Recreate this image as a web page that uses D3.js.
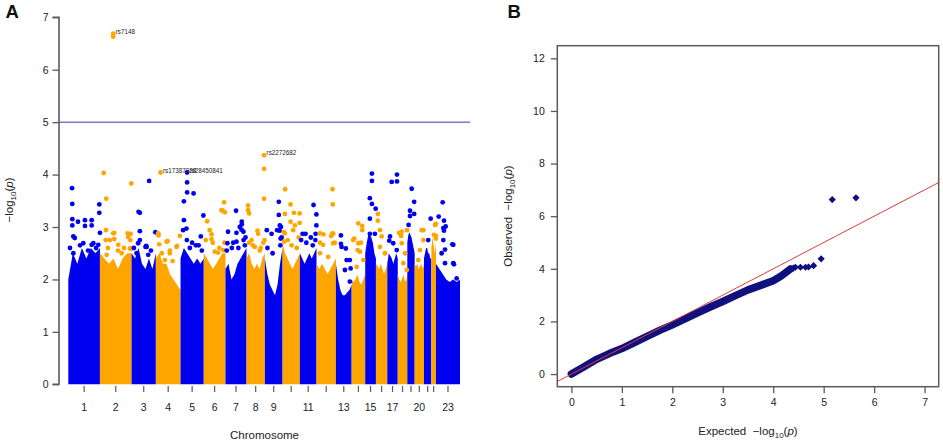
<!DOCTYPE html>
<html><head><meta charset="utf-8">
<script src="https://cdn.jsdelivr.net/npm/d3@7"></script>
<style>
body{margin:0;background:#fff}
svg{font-family:"Liberation Sans",Arial,Helvetica,sans-serif;display:block}
</style>
</head><body>
<svg id="chart" width="943" height="442"></svg>
<script>
// ---------------- DATA ----------------
const chromosomes = ["1","2","3","4","5","6","7","8","9","10","11","12","13","14","15","16","17","18","19","20","21","22","23"];
const chrLengthMb = [245,245,188,191,180,168,163,142,137,134,129,150,122,105,83,88,81,74,57,72,57,36,186];
const chrTickLabels = ["1","2","3","4","5","6","7","8","9","","11","","13","","15","","17","","","20","","","23"];
const manhattanYTicks = [0,1,2,3,4,5,6,7];
const suggestiveLine = 5;
// top of the dense (solid) band for each chromosome, 8 samples from start to end
const bandTops = [
  [2.0,2.5,2.3,2.6,2.4,2.6,2.5,2.6],[2.5,2.4,2.3,2.4,2.2,2.4,2.5,2.5],[2.5,2.4,2.6,2.3,2.2,2.4,2.2,2.5],
  [2.4,2.5,2.3,2.3,2.1,2.0,1.9,1.8],[2.4,2.6,2.5,2.4,2.3,2.4,2.3,2.4],[2.5,2.4,2.3,2.2,2.3,2.4,2.5,2.5],
  [2.2,2.3,2.0,2.1,2.3,2.4,2.5,2.6],[2.4,2.5,2.3,2.2,2.3,2.2,2.4,2.5],[2.4,2.1,1.9,1.8,1.7,1.9,2.3,2.6],
  [2.7,2.5,2.4,2.3,2.2,2.3,2.4,2.5],[2.5,2.4,2.3,2.4,2.5,2.4,2.5,2.6],[2.3,2.2,2.3,2.2,2.1,2.2,2.3,2.4],
  [2.3,2.0,1.8,1.7,1.7,1.75,1.8,1.9],[2.0,1.95,2.0,2.1,1.95,1.9,2.0,2.1],[2.5,2.7,2.85,2.85,2.8,2.7,2.5,2.4],
  [2.3,2.25,2.2,2.3,2.2,2.1,2.2,2.3],[2.3,2.5,2.45,2.4,2.3,2.4,2.5,2.4],[2.1,2.0,1.95,2.0,2.1,2.0,1.95,2.1],
  [2.7,2.85,2.9,2.85,2.8,2.7,2.6,2.5],[2.3,2.25,2.3,2.2,2.25,2.3,2.2,2.3],[2.4,2.5,2.6,2.6,2.5,2.5,2.4,2.4],
  [2.6,2.7,2.8,2.7,2.6,2.5,2.6,2.7],[2.3,2.2,2.1,2.0,1.95,2.0,1.95,2.0]
];
// scattered SNPs above the band: [chromosome (1-based), position Mb, -log10 p]
const snpPoints = [
  [1,29,3.74],[1,31,3.44],[1,31,3.15],[1,31,3.03],[1,75,3.10],[1,129,3.13],[1,129,3.02],[1,181,3.13],[1,181,3.03],
  [1,240,3.43],[1,240,3.27],[1,50,2.79],[1,116,2.69],[1,194,2.69],[1,245,2.89],[1,13,2.6],[1,91,2.65],[1,215,2.6],[1,153,2.55],
  [1,39,2.82],[1,181,2.66],[1,232,2.66],[1,39,2.5],
  [2,103,6.69],[2,103,6.63],[2,29,4.03],[2,49,3.54],[2,243,3.83],[2,46,2.94],[2,111,2.89],[2,111,2.77],[2,215,2.88],[2,238,2.87],
  [2,44,2.75],[2,219,2.81],[2,235,2.75],[2,243,2.59],[2,62,2.6],[2,139,2.55],[2,186,2.6],
  [2,103,2.88],[2,142,2.66],[2,77,2.75],[2,168,2.5],[2,232,2.59],[2,52,2.47],
  [3,136,3.88],[3,54,3.29],[3,64,3.27],[3,64,2.92],[3,64,2.75],[3,113,2.64],[3,184,2.90],[3,108,2.62],[3,18,2.6],[3,150,2.55],
  [3,51,2.69],[3,116,2.62],[3,129,2.47],[3,39,2.5],
  [4,36,4.04],[4,21,2.84],[4,26,2.67],[4,91,2.73],[4,163,2.64],[4,186,2.83],[4,108,2.55],[4,46,2.5],
  [4,18,2.88],[4,83,2.72],[4,108,2.5],[4,160,2.62],[4,70,2.37],[4,130,2.35],
  [5,51,4.04],[5,51,3.85],[5,51,3.66],[5,101,3.64],[5,26,3.49],[5,26,3.13],[5,46,2.97],[5,49,2.75],[5,177,3.22],[5,157,2.82],[5,72,2.6],[5,119,2.65],
  [5,20,2.94],[5,90,2.7],[5,140,2.65],[5,165,2.55],
  [6,157,3.47],[6,137,3.32],[6,26,3.11],[6,46,2.94],[6,60,2.86],[6,60,2.77],[6,147,3.31],[6,163,3.28],[6,85,2.53],[6,111,2.51],[6,150,2.56],
  [6,15,2.75],[6,70,2.7],[6,120,2.6],[6,160,2.7],
  [7,82,3.31],[7,126,3.10],[7,126,3.05],[7,139,2.91],[7,20,2.91],[7,85,2.89],[7,15,2.69],[7,85,2.72],[7,111,3.0],[7,124,2.95],[7,49,2.6],[7,150,2.65],
  [7,10,2.55],[7,60,2.7],[7,100,2.6],[7,140,2.75],[7,155,2.8],
  [8,136,4.37],[8,136,4.11],[8,136,3.54],[8,12,3.41],[8,12,3.32],[8,20,3.26],[8,85,2.93],[8,90,2.87],[8,140,2.75],[8,39,2.75],[8,64,2.62],[8,103,2.55],
  [8,20,2.7],[8,50,2.65],[8,110,2.6],[8,130,2.7],
  [9,108,3.48],[9,15,2.94],[9,52,2.87],[9,114,2.93],[9,122,2.78],[9,108,3.23],[9,116,3.03],[9,124,3.0],[9,95,2.94],
  [9,20,2.6],[9,60,2.5],[9,120,2.65],[9,130,2.8],
  [10,20,3.72],[10,62,3.43],[10,18,3.25],[10,88,3.27],[10,132,3.26],[10,62,3.10],[10,132,3.08],[10,18,2.88],[10,12,2.72],[10,95,3.03],[10,82,2.94],
  [10,10,2.9],[10,40,2.75],[10,70,2.65],[10,110,2.6],[10,125,2.8],
  [11,106,3.42],[11,128,3.24],[11,21,2.87],[11,44,2.87],[11,85,2.80],[11,122,2.87],[11,128,3.03],
  [11,10,2.75],[11,50,2.7],[11,100,2.65],[11,120,2.75],
  [12,124,3.72],[12,126,3.43],[12,26,2.70],[12,54,2.86],[12,113,2.83],[12,129,2.87],[12,142,2.70],
  [12,26,2.88],[12,51,2.66],[12,124,2.88],[12,129,2.69],[12,90,2.43],[12,26,2.5],
  [13,39,2.84],[13,39,2.68],[13,77,2.59],[13,108,2.37],[13,114,2.21],
  [13,44,2.62],[13,83,2.37],[13,70,2.18],[13,108,1.96],
  [14,51,3.07],[14,82,3.02],[14,82,2.94],[14,20,2.78],[14,72,2.70],[14,46,2.56],
  [14,12,2.75],[14,51,2.69],[14,64,2.53],[14,90,2.37],[14,39,2.24],
  [15,52,4.02],[15,52,3.88],[15,36,3.55],[15,52,3.44],[15,81,3.35],[15,36,3.16],[15,36,2.87],[15,75,2.87],
  [16,15,3.25],[16,15,3.12],[16,31,2.94],[16,44,2.82],[16,31,2.62],[16,70,2.5],
  [17,34,3.86],[17,75,4.00],[17,75,3.87],[17,15,2.74],[17,21,2.82],[17,46,2.69],[17,73,2.56],
  [18,10,2.89],[18,26,2.83],[18,31,2.91],[18,72,2.94],[18,18,2.88],[18,31,2.69],[18,57,2.5],[18,43,2.31],[18,70,2.18],
  [19,34,3.73],[19,53,3.48],[19,21,3.31],[19,21,3.21],[19,53,3.25],[19,10,3.04],
  [20,67,2.94],[20,54,2.94],[20,67,2.75],[20,41,2.56],[20,28,2.37],
  [21,52,3.16],[21,33,2.75],
  [22,35,3.06],[22,35,2.83],[22,35,2.78],[22,29,3.04],[22,20,2.85],
  [23,52,3.47],[23,21,3.20],[23,62,3.12],[23,75,3.01],[23,62,2.93],[23,127,2.67],[23,70,2.57],[23,139,2.29],
  [23,57,2.98],[23,57,2.75],[23,134,2.66],[23,44,2.5],[23,70,2.31],[23,134,2.31],[23,160,2.02]
];
// annotated SNPs: [chromosome, position Mb, -log10 p, label]
const annotatedSnps = [
  [2,103,6.69,"rs7148"],[4,36,4.04,"rs17387038"],[5,51,4.04,"rs28450841"],[8,136,4.37,"rs2272682"]
];
// QQ plot
const qqXTicks = [0,1,2,3,4,5,6,7];
const qqYTicks = [0,2,4,6,8,10,12];
const qqBand = [[0,0],[0.25,0.28],[0.5,0.56],[0.75,0.78],[1.0,0.97],[1.25,1.2],[1.5,1.43],[1.75,1.66],
  [2.0,1.87],[2.25,2.1],[2.5,2.33],[2.75,2.55],[3.0,2.76],[3.25,2.98],[3.5,3.2],[3.75,3.37],[4.0,3.55],
  [4.15,3.72],[4.25,3.86],[4.34,3.99]];
const qqTail = [[4.40,4.03],[4.44,4.06],[4.54,4.06],[4.64,4.06],[4.70,4.07],[4.80,4.12],[4.95,4.38],[5.17,6.63],[5.64,6.70]];

// ---------------- DRAW ----------------
const svg = d3.select("#chart");
const BLUE = "#0000f0", ORANGE = "#ffa500", AXIS = "#5a5a5a";
const colorOf = i => (i % 2 === 0 ? BLUE : ORANGE);

const chrStart = [];
let acc = 0;
chrLengthMb.forEach(l => { chrStart.push(acc); acc += l; });
const genomeLen = acc;

// ----- Panel A -----
const xA = d3.scaleLinear().domain([0, genomeLen]).range([68.3, 460]);
const yA = d3.scaleLinear().domain([0, 7]).range([384.3, 17.3]);
const gA = svg.append("g");

const area = d3.area().x(d => xA(d[0])).y0(yA(0)).y1(d => yA(d[1]));
bandTops.forEach((tops, i) => {
  const pts = tops.map((v, k) => [chrStart[i] + chrLengthMb[i] * k / (tops.length - 1), v]);
  gA.append("path").attr("d", area(pts)).attr("fill", colorOf(i));
});
gA.append("g").selectAll("circle").data(snpPoints).join("circle")
  .attr("cx", d => xA(chrStart[d[0]-1] + d[1]))
  .attr("cy", d => yA(d[2]))
  .attr("r", 2.4)
  .attr("fill", d => colorOf(d[0]-1));

gA.append("line").attr("x1", 59).attr("x2", 470)
  .attr("y1", yA(suggestiveLine)).attr("y2", yA(suggestiveLine))
  .attr("stroke", "#3535c0").attr("stroke-width", 1);

gA.append("g").selectAll("text").data(annotatedSnps).join("text")
  .attr("x", d => xA(chrStart[d[0]-1] + d[1]) + 2.5)
  .attr("y", d => yA(d[2]) + 0.3)
  .attr("font-size", 6.3).attr("fill", "#222")
  .text(d => d[3]);

const yAxisA = d3.axisLeft(yA).tickValues(manhattanYTicks).tickSize(6.5).tickPadding(4).tickFormat(d3.format("d"));
const gyA = gA.append("g").attr("transform", "translate(59,0)").call(yAxisA);
gyA.select(".domain").attr("stroke", AXIS).attr("stroke-width", 1.6).attr("d", `M-6.5,${yA(7)}H0V${yA(0)}H-6.5`);
gyA.selectAll(".tick line").attr("stroke", AXIS).attr("stroke-width", 1.3);
gyA.selectAll(".tick text").attr("font-size", 10.5).attr("fill", "#222").attr("font-family", "Liberation Sans, Arial, sans-serif");

const tickPos = chromosomes.map((c, i) => chrStart[i] + chrLengthMb[i] / 2);
const gxA = gA.append("g");
gxA.selectAll("line").data(tickPos).join("line")
  .attr("x1", d => xA(d)).attr("x2", d => xA(d))
  .attr("y1", 386).attr("y2", 392)
  .attr("stroke", AXIS).attr("stroke-width", 1.2);
gxA.selectAll("text").data(tickPos).join("text")
  .attr("x", d => xA(d)).attr("y", 410.5)
  .attr("text-anchor", "middle").attr("font-size", 10.5).attr("fill", "#222")
  .text((d, i) => chrTickLabels[i]);

gA.append("text").attr("x", 264.5).attr("y", 439).attr("text-anchor", "middle")
  .attr("font-size", 11.5).attr("fill", "#222").text("Chromosome");
const tA = gA.append("text").attr("transform", "translate(13,200) rotate(-90)")
  .attr("text-anchor", "middle").attr("font-size", 11.5).attr("fill", "#222");
tA.append("tspan").text("\u2212log");
tA.append("tspan").attr("font-size", 8).attr("dy", 2.5).text("10");
tA.append("tspan").attr("dy", -2.5).text("(");
tA.append("tspan").attr("font-style", "italic").text("p");
tA.append("tspan").text(")");

svg.append("text").attr("x", 5.5).attr("y", 18.3).attr("font-size", 18.5).attr("font-weight", "bold").attr("fill", "#111").text("A");

// ----- Panel B -----
const xB = d3.scaleLinear().domain([-0.28, 7.28]).range([557.3, 938.7]);
const yB = d3.scaleLinear().domain([-0.48, 12.48]).range([386.7, 45.7]);
const gB = svg.append("g");
svg.append("defs").append("clipPath").attr("id", "qqclip").append("rect")
  .attr("x", 557.3).attr("y", 45.7).attr("width", 938.7 - 557.3).attr("height", 386.7 - 45.7);

const qqLine = d3.line().x(d => xB(d[0])).y(d => yB(d[1]));
gB.append("path").attr("d", qqLine(qqBand)).attr("fill", "none")
  .attr("stroke", "#12127e").attr("stroke-width", 7.5).attr("stroke-linecap", "round").attr("stroke-linejoin", "round");
const diamond = r => `M0,${-r}L${r},0L0,${r}L${-r},0Z`;
gB.append("g").selectAll("path").data(qqBand.concat(qqTail)).join("path")
  .attr("transform", d => `translate(${xB(d[0])},${yB(d[1])})`)
  .attr("d", diamond(3.6)).attr("fill", "#0e0e7c");

gB.append("line").attr("clip-path", "url(#qqclip)")
  .attr("x1", xB(-0.28)).attr("y1", yB(-0.28)).attr("x2", xB(7.28)).attr("y2", yB(7.28))
  .attr("stroke", "#e03a3a").attr("stroke-width", 1);

gB.append("rect").attr("x", 557.3).attr("y", 45.7).attr("width", 938.7 - 557.3).attr("height", 386.7 - 45.7)
  .attr("fill", "none").attr("stroke", AXIS).attr("stroke-width", 1.5);

const gxB = gB.append("g").attr("transform", "translate(0,386.7)")
  .call(d3.axisBottom(xB).tickValues(qqXTicks).tickSize(6.5).tickPadding(5).tickFormat(d3.format("d")));
const gyB = gB.append("g").attr("transform", "translate(557.3,0)")
  .call(d3.axisLeft(yB).tickValues(qqYTicks).tickSize(6.5).tickPadding(6).tickFormat(d3.format("d")));
[gxB, gyB].forEach(g => {
  g.select(".domain").remove();
  g.selectAll(".tick line").attr("stroke", AXIS).attr("stroke-width", 1.3);
  g.selectAll(".tick text").attr("font-size", 10.5).attr("fill", "#222").attr("font-family", "Liberation Sans, Arial, sans-serif");
});

function logTitle(sel, prefix) {
  sel.append("tspan").attr("style", "white-space:pre").text(prefix + "  \u2212log");
  sel.append("tspan").attr("font-size", 8).attr("dy", 2.5).text("10");
  sel.append("tspan").attr("dy", -2.5).text("(");
  sel.append("tspan").attr("font-style", "italic").text("p");
  sel.append("tspan").text(")");
}
const tBx = gB.append("text").attr("x", 748).attr("y", 435).attr("text-anchor", "middle")
  .attr("font-size", 11.5).attr("fill", "#222");
logTitle(tBx, "Expected");
const tBy = gB.append("text").attr("transform", "translate(512,216) rotate(-90)").attr("text-anchor", "middle")
  .attr("font-size", 11.5).attr("fill", "#222");
logTitle(tBy, "Observed");

svg.append("text").attr("x", 507.5).attr("y", 18.3).attr("font-size", 18.5).attr("font-weight", "bold").attr("fill", "#111").text("B");
</script>
</body></html>
